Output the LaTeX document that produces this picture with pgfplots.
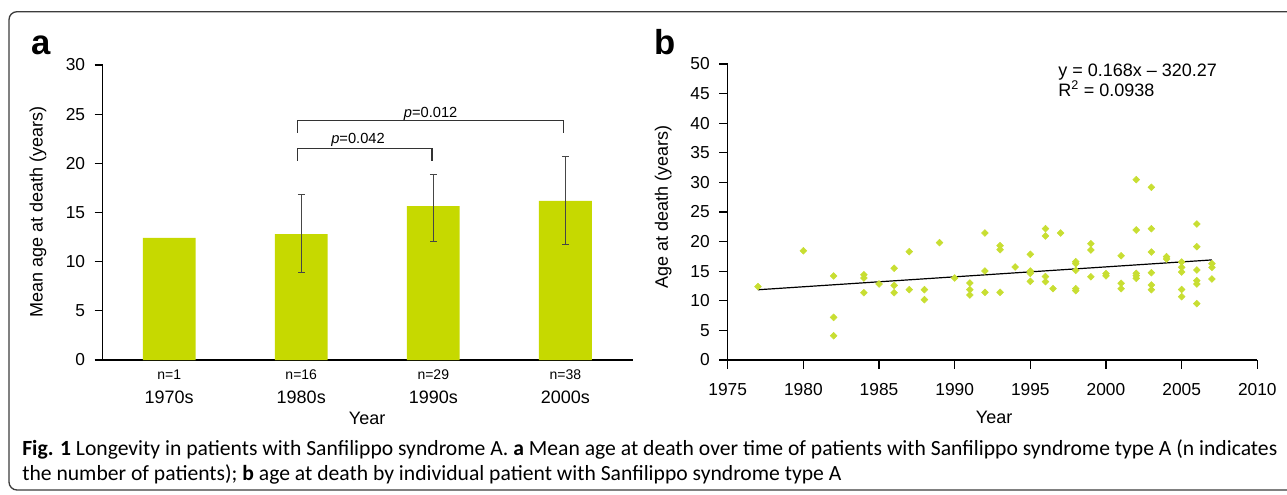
\documentclass[border=0pt]{standalone}
\usepackage{fontspec}
\setmainfont{Liberation Sans}
\newfontfamily\capfont{Carlito}
\usepackage{graphicx}
\usepackage{pgfplots}
\usepackage{pgfplotstable}
\pgfplotsset{compat=1.18}
\definecolor{barc}{RGB}{198,217,0}
\definecolor{dotc}{RGB}{200,222,50}
\definecolor{framec}{RGB}{60,60,60}
\definecolor{errc}{RGB}{70,70,70}

\pgfplotstableread{
x y ep em
0 12.41 0 0
1 12.81 4.00 3.89
2 15.66 3.22 3.63
3 16.17 4.54 4.44
}\bars

\pgfplotstableread{
x y
1977 12.4
1980 18.45
1982 14.2
1982 7.2
1982 4.1
1984 14.4
1984 13.85
1984 11.37
1985 12.84
1986 15.5
1986 12.6
1986 11.37
1987 18.3
1987 11.88
1988 11.88
1988 10.19
1989 19.82
1990 13.85
1991 13.0
1991 11.88
1991 10.98
1992 21.45
1992 15.03
1992 11.43
1993 19.31
1993 18.64
1993 11.43
1994 15.71
1995 17.85
1995 15.03
1995 14.64
1995 13.29
1996 22.18
1996 20.95
1996 14.1
1996 13.23
1996.5 12.05
1997 21.45
1998 16.6
1998 16.27
1998 15.15
1998 12.05
1998 11.71
1999 19.65
1999 18.58
1999 14.05
2000 14.6
2000 14.22
2001 17.6
2001 12.95
2001 12.05
2002 30.46
2002 21.96
2002 14.64
2002 14.24
2002 13.8
2003 29.17
2003 22.18
2003 18.24
2003 14.75
2003 12.67
2003 11.88
2004 17.45
2004 17.06
2005 16.55
2005 15.65
2005 14.86
2005 11.9
2005 10.7
2006 22.97
2006 19.14
2006 15.2
2006 13.4
2006 12.84
2006 9.52
2007 16.27
2007 15.65
2007 13.68
}\scatterdata

\newcommand\capone{\textbf{Fig. 1} Longevity in patients with Sanfilippo syndrome A. \textbf{a} Mean age at death over time of patients with Sanfilippo syndrome type A (n indicates}
\newcommand\captwo{the number of patients); \textbf{b} age at death by individual patient with Sanfilippo syndrome type A}
\newlength\capw

\begin{document}
\settowidth\capw{\capfont\fontsize{12}{14}\selectfont\capone}%
\pgfmathsetmacro\capsx{941.25/\capw}%
\begin{tikzpicture}
\useasboundingbox (0,0) rectangle (965.25pt,-371.25pt);
\pgfplotsset{
  myaxis/.style={
    scale only axis,
    anchor=south west,
    axis x line*=bottom, axis y line*=left,
    x axis line style={-}, y axis line style={-},
    axis line style={black, line width=0.9pt},
    tick style={black, line width=0.9pt},
    tick align=outside,
    ticklabel style={font=\fontsize{13}{15}\selectfont},
    yticklabel style={xshift=-3.5pt},
    /pgf/number format/assume math mode=true,
    label style={font=\fontsize{13.5}{16}\selectfont},
    clip=false,
  }
}
% ---------- panel a ----------
\begin{axis}[myaxis,
  at={(76.875pt,-270pt)}, width=397.65pt, height=221.25pt,
  xmin=-0.505, xmax=3.51, ymin=0, ymax=30,
  ytick={0,5,...,30}, major tick length=6pt,
  xtick={0,1,2,3}, xticklabels={1970s,1980s,1990s,2000s},
  xtick style={draw=none},
  xticklabel style={anchor=base, yshift=-26.8pt, font=\fontsize{13.5}{15}\selectfont},
  extra x ticks={0,1,2,3},
  extra x tick labels={n=1,n=16,n=29,n=38},
  extra x tick style={tick style={draw=none}, xticklabel style={font=\fontsize{10.5}{12}\selectfont, yshift=18.3pt}},
  xlabel={Year},
  xlabel style={at={(axis description cs:0.499,-0.217)}, anchor=base},
  ylabel={Mean age at death (years)},
  ylabel style={at={(axis description cs:-0.1217,0.503)}, anchor=center},
]
\addplot[ybar, bar width=0.4, bar shift=0pt, fill=barc, draw=none] table[x=x,y=y]{\bars};
\addplot[draw=none, mark=none, forget plot, skip coords between index={0}{1},
  error bars/.cd, y dir=both, y explicit,
  error bar style={draw=errc, line width=0.8pt},
  error mark options={rotate=90, mark size=2.5pt, draw=errc, line width=0.8pt}]
  table[x=x, y=y, y error plus=ep, y error minus=em]{\bars};
\draw[black!80, line width=0.8pt] (axis cs:0.975,20.26) -- (axis cs:0.975,21.53) -- (axis cs:1.99,21.53) -- (axis cs:1.99,20.26);
\draw[black!80, line width=0.8pt] (axis cs:0.975,23.1) -- (axis cs:0.975,24.4) -- (axis cs:2.985,24.4) -- (axis cs:2.985,23.1);
\node[anchor=base, inner sep=0pt, font=\fontsize{11}{13}\selectfont] at (axis cs:1.43,21.97) {\textit{p}=0.042};
\node[anchor=base, inner sep=0pt, font=\fontsize{11}{13}\selectfont] at (axis cs:1.98,24.64) {\textit{p}=0.012};
\end{axis}
% ---------- panel b ----------
\begin{axis}[myaxis,
  at={(545.775pt,-270pt)}, width=397.2pt, height=222pt,
  xmin=1975, xmax=2010, ymin=0, ymax=50,
  xtick={1975,1980,...,2010}, ytick={0,5,...,50},
  major tick length=6.5pt,
  xticklabel style={/pgf/number format/1000 sep={}, yshift=-7.5pt},
  xlabel={Year},
  xlabel style={at={(axis description cs:0.503,-0.214)}, anchor=base},
  ylabel={Age at death (years)},
  ylabel style={at={(axis description cs:-0.122,0.518)}, anchor=center},
]
\addplot[only marks, mark=square*, mark size=1.8pt, mark options={rotate=45, fill=dotc, draw=dotc}] table[x=x,y=y]{\scatterdata};
\addplot[black, line width=0.9pt, mark=none] coordinates {(1977,11.866) (2007,16.906)};
\end{axis}
% ---------- texts and frame ----------
\begin{scope}[x=0.75pt, y=-0.75pt]
\draw[framec, line width=1pt, rounded corners=6pt] (1300,11.7) -- (9,11.7) -- (9,490) -- (1300,490);
\node[anchor=base west, inner sep=0pt, font=\fontsize{26}{30}\selectfont\bfseries] at (31,55) {a};
\node[anchor=base west, inner sep=0pt, font=\fontsize{26}{30}\selectfont\bfseries] at (654.5,55) {b};
\node[anchor=base west, inner sep=0pt, font=\fontsize{13.5}{16}\selectfont] at (1058,77) {y = 0.168x -- 320.27};
\node[anchor=base west, inner sep=0pt, font=\fontsize{13.5}{16}\selectfont] at (1058,96.5) {R\textsuperscript{2} = 0.0938};
\node[anchor=base west, inner sep=0pt] at (22,455) {\scalebox{\capsx}{\capfont\fontsize{12}{14}\selectfont\capone}};
\node[anchor=base west, inner sep=0pt] at (22,480) {\scalebox{\capsx}{\capfont\fontsize{12}{14}\selectfont\captwo}};
\end{scope}
\end{tikzpicture}
\end{document}
